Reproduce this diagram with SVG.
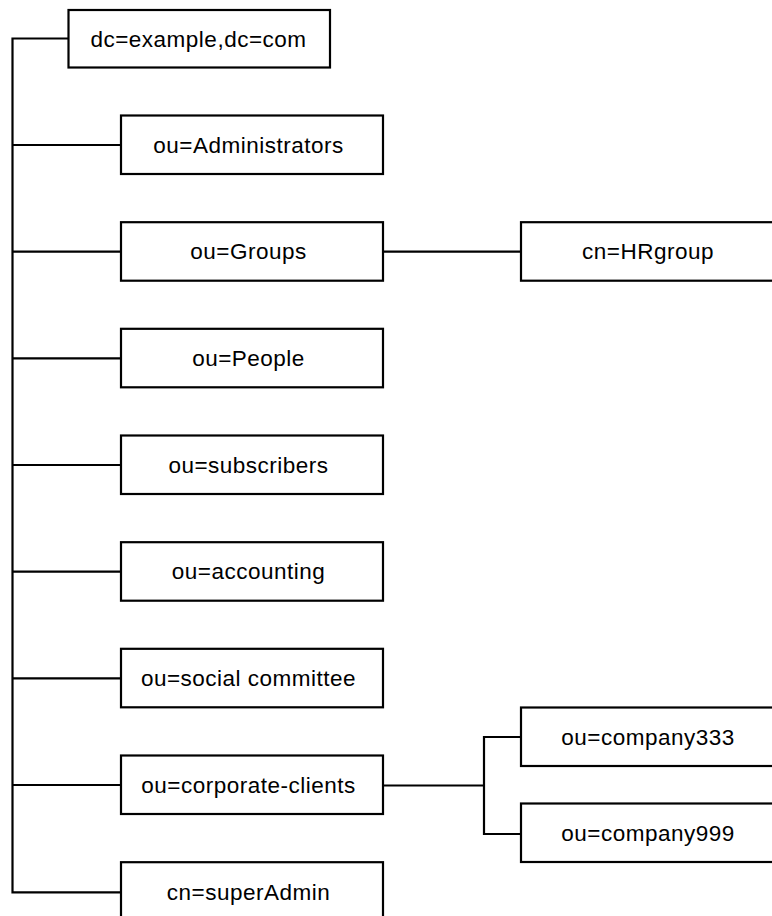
<svg xmlns="http://www.w3.org/2000/svg" width="772" height="916" viewBox="0 0 772 916">
<style>
.box{fill:#fff;stroke:#000;stroke-width:2.2}
.lbl{font-family:"Liberation Sans",Arial,sans-serif;font-size:22.5px;letter-spacing:0.5px;fill:#000;text-anchor:middle}
.con{fill:none;stroke:#000;stroke-width:2.2}
</style>
<rect width="772" height="916" fill="#fff"/>
<g id="connectors">
<path class="con" d="M68 38.5H12.5V892.3H121"/>
<path class="con" d="M12.5 145H121M12.5 251.7H121M12.5 358.3H121M12.5 465H121M12.5 571.7H121M12.5 678.3H121M12.5 785H121"/>
<path class="con" d="M383 251.7H521"/>
<path class="con" d="M383 785.5H484M521 737H484V834H521"/>
</g>
<g id="n-root"><rect class="box" x="68.5" y="10" width="261.5" height="57.5"/><text class="lbl" x="198.5" y="46.5">dc=example,dc=com</text></g>
<g id="n-admins"><rect class="box" x="121" y="115.5" width="262" height="58.5"/><text class="lbl" x="248.5" y="152.5">ou=Administrators</text></g>
<g id="n-groups"><rect class="box" x="121" y="222.2" width="262" height="58.5"/><text class="lbl" x="248.5" y="259.2">ou=Groups</text></g>
<g id="n-people"><rect class="box" x="121" y="328.8" width="262" height="58.5"/><text class="lbl" x="248.5" y="365.8">ou=People</text></g>
<g id="n-subscribers"><rect class="box" x="121" y="435.5" width="262" height="58.5"/><text class="lbl" x="248.5" y="472.5">ou=subscribers</text></g>
<g id="n-accounting"><rect class="box" x="121" y="542.2" width="262" height="58.5"/><text class="lbl" x="248.5" y="579.2">ou=accounting</text></g>
<g id="n-social"><rect class="box" x="121" y="648.8" width="262" height="58.5"/><text class="lbl" x="248.5" y="685.8">ou=social committee</text></g>
<g id="n-corporate"><rect class="box" x="121" y="755.5" width="262" height="58.5"/><text class="lbl" x="248.5" y="792.5">ou=corporate-clients</text></g>
<g id="n-superadmin"><rect class="box" x="121" y="862.2" width="262" height="60"/><text class="lbl" x="248.5" y="899.5">cn=superAdmin</text></g>
<g id="n-hrgroup"><rect class="box" x="521" y="222.2" width="260" height="58.5"/><text class="lbl" x="648" y="259.2">cn=HRgroup</text></g>
<g id="n-company333"><rect class="box" x="521" y="707.5" width="260" height="58.5"/><text class="lbl" x="648" y="744.5">ou=company333</text></g>
<g id="n-company999"><rect class="box" x="521" y="803.5" width="260" height="58.5"/><text class="lbl" x="648" y="840.5">ou=company999</text></g>
</svg>
